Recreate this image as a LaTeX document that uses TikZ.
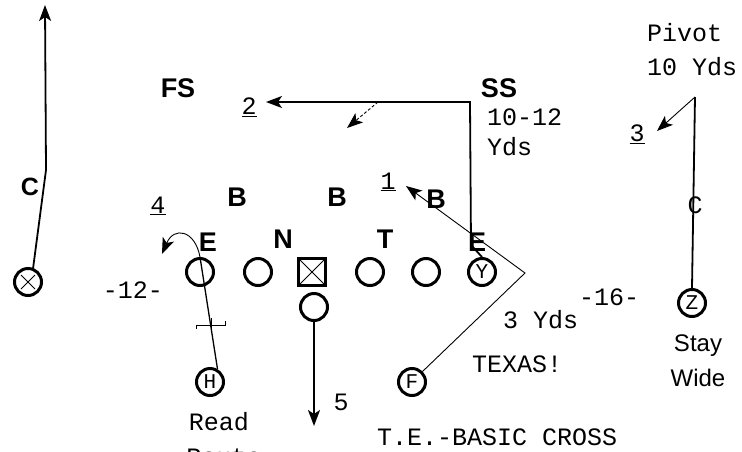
\documentclass[tikz,border=0pt]{standalone}
\usepackage{fontspec}
\setmainfont{Liberation Sans}
\newfontfamily\cour{Liberation Mono}
\usetikzlibrary{arrows.meta}
\begin{document}
\begin{tikzpicture}[x=1pt,y=-1pt,
  player/.style={draw,circle,line width=3pt,minimum size=27pt,inner sep=0pt,font=\cour\fontsize{21}{21}\selectfont},
  defl/.style={font=\bfseries\fontsize{27}{27}\selectfont,inner sep=0pt},
  note/.style={font=\cour\fontsize{25}{25}\selectfont,inner sep=0pt},
  route/.style={line width=1.8pt,-{Stealth[length=16pt,width=12pt,inset=4pt]}},
  thinroute/.style={line width=0.9pt,-{Stealth[length=16pt,width=12pt,inset=4pt]}}]
\useasboundingbox (0,0) rectangle (742,451);
% offensive line
\node[player] (e1) at (200,272) {};
\node[player] (g1) at (258,272) {};
\node[draw,line width=3pt,minimum size=27pt,inner sep=0pt,
  path picture={\draw[line width=0.9pt] (path picture bounding box.south west)--(path picture bounding box.north east)
  (path picture bounding box.north west)--(path picture bounding box.south east);}] (ctr) at (312,272) {};
\node[player] (g2) at (370,272) {};
\node[player] (t2) at (426,272) {};
\node[player] (yy) at (482,272) {Y};
\node[player] (qb) at (314,307) {};
\node[player] (xx) at (28,282) {};
\draw[line width=0.9pt] (21,275)--(35,289) (35,275)--(21,289);
\node[player] (hh) at (210,382) {H};
\node[player] (ff) at (412,382) {F};
\node[player] (zz) at (692,303) {Z};
% defense
\node[defl] (fs) at (178,88) {FS};
\node[defl] (ss) at (499,88) {SS};
\node[defl] (b1) at (237,197) {B};
\node[defl] (b2) at (337,197) {B};
\node[defl] (b3) at (436,199) {B};
\node[defl] (de1) at (208,242) {E};
\node[defl] (nt) at (283,239) {N};
\node[defl] (dt) at (385,239) {T};
\node[defl] (de2) at (477,242) {E};
% routes
\coordinate (xbend) at (46,170);
\coordinate (xend) at (45,5);
\draw[route] (xx.70) -- (xbend) -- (xend);
\node[font=\bfseries\fontsize{25}{25}\selectfont,inner sep=0pt] (xc) at (30,187) {C};
\coordinate (ybend) at (471,245);
\coordinate (ycorner) at (470,102);
\coordinate (yend) at (266,102);
\draw[route] (yy.north) -- (ybend) -- (ycorner) -- (yend);
\coordinate (fsa) at (378,102);
\coordinate (fsb) at (347,128);
\draw[thinroute,densely dashed] (fsa) -- (fsb);
\coordinate (fbend) at (525,273);
\coordinate (fend) at (406,186);
\draw[thinroute] (ff.45) -- (fbend) -- (fend);
\coordinate (zcorner) at (695,97);
\coordinate (zend) at (657,131);
\draw[line width=1.8pt] (zz.north) -- (zcorner);
\draw[thinroute] (zcorner) -- (zend);
\node[note] (zc) at (695,205) {C};
\coordinate (qend) at (314,426);
\draw[route] (qb.south) -- (qend);
\draw[line width=1.3pt] (e1.north) -- (hh.60);
\draw[line width=0.9pt] (196,329) -- (196,325) -- (225,325) -- (225,321) (211,318) -- (211,332);
\coordinate (eend) at (162,254);
\draw[thinroute] (e1.north) .. controls (195,230) and (174,226) .. (eend);
% numbers and notes
\node[note] (n1) at (388,182) {\underline{1}};
\node[note] (n2) at (249,107) {\underline{2}};
\node[note] (n3) at (637,134) {\underline{3}};
\node[note] (n4) at (158,206) {\underline{4}};
\node[note] (n5) at (341,402) {5};
\node[note] (m12) at (133,290) {-12-};
\node[note] (m16) at (609,297) {-16-};
\node[note,anchor=west] (yds1) at (487,117) {10-12};
\node[note,anchor=west] (yds2) at (487,147) {Yds};
\node[note,anchor=west] (piv) at (647,33) {Pivot};
\node[note,anchor=west] (piv2) at (647,67) {10 Yds};
\node[note,anchor=west] (yds3) at (503,320) {3 Yds};
\node[note,anchor=west] (tex) at (472,364) {TEXAS!};
\node[note,anchor=west] (title) at (377,437) {T.E.-BASIC CROSS};
\node[note] (rd) at (219,422) {Read};
\node[note] (rt) at (224,457) {Route};
\node[font=\fontsize{24}{24}\selectfont,inner sep=0pt] (stay) at (698,346) {Stay};
\node[font=\fontsize{24}{24}\selectfont,inner sep=0pt] (wide) at (698,378) {Wide};
\end{tikzpicture}
\end{document}
